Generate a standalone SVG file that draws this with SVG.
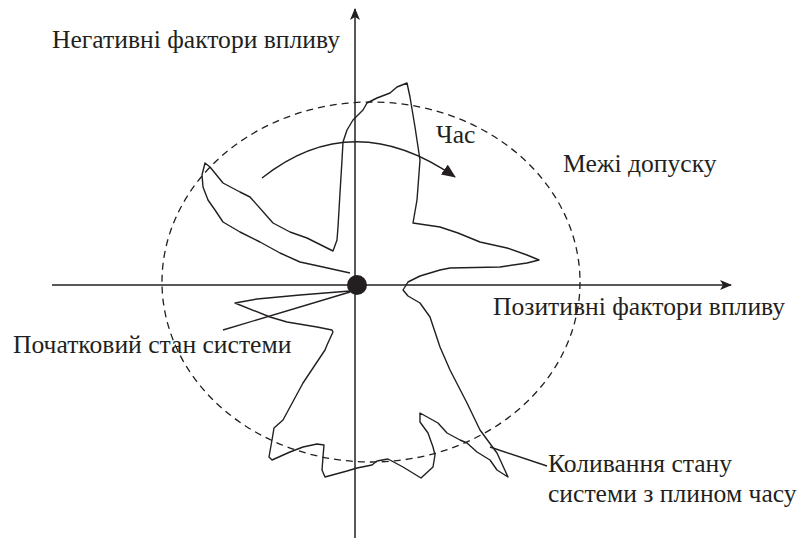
<svg xmlns="http://www.w3.org/2000/svg" width="798" height="542" viewBox="0 0 798 542">
<style>
.t{font-family:"Liberation Serif","Times New Roman",serif;font-size:25.6px;fill:#231f20}
.ax{stroke:#231f20;stroke-width:1.5;fill:none}
.ln{stroke:#231f20;stroke-width:1.4;fill:none;stroke-linejoin:round}
.dash{stroke:#231f20;stroke-width:1.3;fill:none;stroke-dasharray:7 5}
</style>
<defs>
<marker id="axarr" viewBox="0 0 12 10" refX="11" refY="5" markerWidth="12" markerHeight="10" markerUnits="userSpaceOnUse" orient="auto">
<path d="M0,0 L12,5 L0,10 L3,5 Z" fill="#231f20"/>
</marker>
<marker id="tarr" viewBox="0 0 14 12" refX="13" refY="6" markerWidth="14" markerHeight="12" markerUnits="userSpaceOnUse" orient="auto">
<path d="M0,0 L14,6 L0,12 Z" fill="#231f20"/>
</marker>
</defs>
<g id="connectors">
<line class="ax" x1="52" y1="285" x2="731" y2="285" marker-end="url(#axarr)"/>
<line class="ax" x1="355" y1="538" x2="355" y2="9" marker-end="url(#axarr)"/>
<ellipse id="tolerance" class="dash" cx="371" cy="282" rx="209" ry="180"/>
<path id="time-arrow" class="ln" d="M262,178 Q353,106 455,177" marker-end="url(#tarr)"/>
<path id="trajectory" class="ln" d="M350,273 L323,267 L300,262 L280,253 L260,242 L240,232 L223,222 L215,210 L208,200 L203,187 L202,175 L205,163 L210,167 L223,183 L240,192 L250,197 L273,223 L290,232 L307,238 L333,251 L337,240 L338,227 L340,193 L342,160 L343,142 L347,130 L353,120 L363,110 L367,103 L377,98 L390,93 L397,87 L407,83 L410,97 L415,127 L420,160 L417,200 L413,223 L440,227 L458,233 L480,242 L507,248 L527,255 L539,260 L527,263 L500,267 L450,268 L440,270 L420,276 L408,282 L403,290 L408,296 L420,303 L430,317 L440,347 L450,370 L467,403 L480,430 L497,453 L508,477 L497,470 L490,460 L477,452 L467,443 L460,440 L447,433 L438,423 L420,413 L420,422 L428,433 L433,447 L435,455 L433,467 L421,478 L403,467 L388,459 L377,461 L372,465 L357,468 L347,471 L325,477 L322,470 L323,457 L324,445 L317,444 L303,447 L290,452 L272,460 L269,457 L272,440 L274,428 L283,420 L303,383 L325,350 L327,345 L333,332 L332,330 L317,327 L287,322 L270,317 L235,303 L257,299 L300,295 L350,291"/>
<line class="ln" x1="223" y1="330" x2="350" y2="292"/>
<line class="ln" x1="490" y1="447" x2="547" y2="466"/>
</g>
<g id="origin">
<circle cx="357" cy="285" r="10" fill="#231f20"/>
</g>
<g id="label-negative"><text class="t" x="52" y="48">Негативні фактори впливу</text></g>
<g id="label-time"><text class="t" x="436" y="143">Час</text></g>
<g id="label-tolerance"><text class="t" x="563" y="172">Межі допуску</text></g>
<g id="label-positive"><text class="t" x="493" y="315">Позитивні фактори впливу</text></g>
<g id="label-initial"><text class="t" x="13" y="353">Початковий стан системи</text></g>
<g id="label-fluct"><text class="t" x="548" y="472">Коливання стану</text><text class="t" x="548" y="502">системи з плином часу</text></g>
</svg>
